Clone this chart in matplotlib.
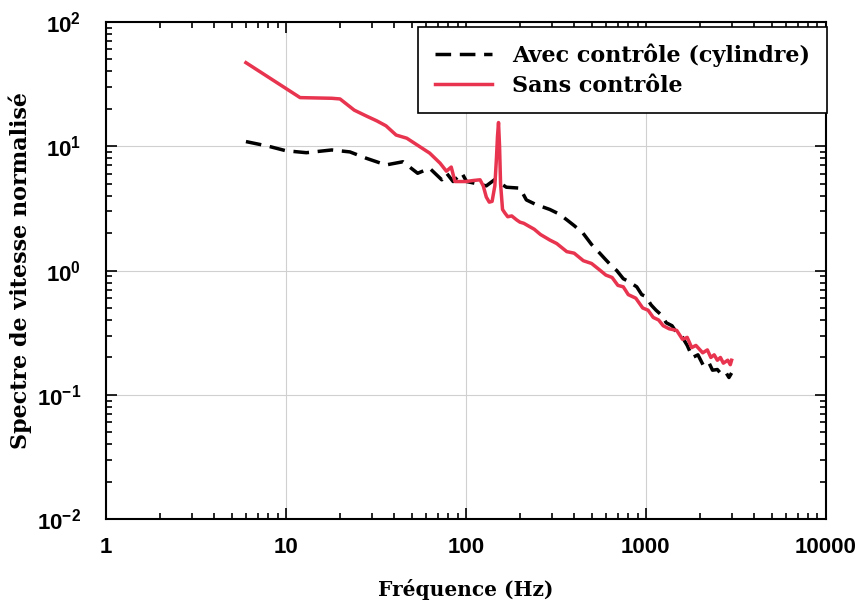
import matplotlib.pyplot as plt
from matplotlib.ticker import LogLocator, NullFormatter

# Avec contrôle (cylindre) - black dashed
freq_avec = [6, 8, 10, 13, 18, 22.7, 28, 36, 44.7, 54, 63, 73.5, 78, 85, 95, 101,
             115, 130, 145, 168, 200, 217, 245, 293, 330, 364, 400, 448, 500,
             555, 600, 650, 690, 750, 800, 891, 950, 1000, 1070, 1140, 1220,
             1300, 1400, 1486, 1600, 1700, 1820, 1950, 2100, 2250, 2350, 2500,
             2650, 2800, 2900, 3000]
spec_avec = [10.9, 10.0, 9.2, 8.87, 9.33, 9.0, 8.0, 7.07, 7.5, 6.06, 6.65, 5.37,
             6.1, 5.2, 6.1, 5.2, 5.0, 4.8, 5.4, 4.68, 4.6, 3.7, 3.4, 3.1, 2.85,
             2.56, 2.3, 2.0, 1.62, 1.38, 1.22, 1.08, 1.0, 0.86, 0.82, 0.74,
             0.64, 0.62, 0.53, 0.48, 0.44, 0.38, 0.36, 0.316, 0.29, 0.25, 0.2,
             0.21, 0.17, 0.18, 0.158, 0.16, 0.145, 0.15, 0.138, 0.15]

# Sans contrôle - red solid
freq_sans = [6, 12, 18, 20, 24, 28, 32, 36, 41, 47, 55, 63, 72, 78, 83, 87, 91,
             100, 110, 120, 125, 130, 135, 140, 145, 148, 150, 152, 154, 156,
             160, 165, 171, 180, 192, 200, 210, 227, 240, 260, 293, 320, 364,
             400, 450, 500, 555, 600, 650, 700, 750, 800, 880, 962, 1030, 1100,
             1180, 1250, 1350, 1486, 1600, 1700, 1800, 1900, 2073, 2200, 2300,
             2400, 2500, 2600, 2700, 2855, 2950, 3000]
spec_sans = [47, 24.6, 24.3, 24, 19.5, 17.5, 16, 14.6, 12.3, 11.6, 10, 8.8, 7.3,
             6.3, 6.8, 5.2, 5.2, 5.2, 5.3, 5.37, 4.8, 3.9, 3.55, 3.6, 4.8, 8,
             12, 15.5, 10, 5, 3.1, 2.9, 2.71, 2.75, 2.55, 2.45, 2.4, 2.25, 2.15,
             1.95, 1.76, 1.65, 1.42, 1.38, 1.2, 1.14, 1.01, 0.92, 0.88, 0.76,
             0.74, 0.64, 0.6, 0.5, 0.48, 0.42, 0.4, 0.36, 0.34, 0.33, 0.28, 0.29,
             0.24, 0.25, 0.218, 0.23, 0.2, 0.21, 0.19, 0.2, 0.18, 0.19, 0.175,
             0.19]

plt.rcParams["font.family"] = "DejaVu Serif"
plt.rcParams["mathtext.fontset"] = "custom"
plt.rcParams["mathtext.bf"] = "Liberation Sans:bold"

fig = plt.figure(figsize=(8.61, 6.08), dpi=100)
ax = fig.add_axes([0.123, 0.146, 0.836, 0.818])

ax.plot(freq_avec, spec_avec, color="black", lw=2.5, linestyle=(0, (4.5, 2.5)),
        label="Avec contrôle (cylindre)")
ax.plot(freq_sans, spec_sans, color="#e8344f", lw=2.5, label="Sans contrôle")

ax.set_xscale("log")
ax.set_yscale("log")
ax.set_xlim(1, 10000)
ax.set_ylim(1e-2, 1e2)

ax.xaxis.set_minor_locator(LogLocator(base=10, subs=range(2, 10)))
ax.yaxis.set_minor_locator(LogLocator(base=10, subs=range(2, 10)))
ax.xaxis.set_minor_formatter(NullFormatter())
ax.yaxis.set_minor_formatter(NullFormatter())
ax.set_xticks([1, 10, 100, 1000, 10000])
ax.set_xticklabels(["1", "10", "100", "1000", "10000"])
ax.set_yticks([1e-2, 1e-1, 1, 10, 100])
ax.set_yticklabels([r"$\mathbf{10^{-2}}$", r"$\mathbf{10^{-1}}$", r"$\mathbf{10^{0}}$",
                    r"$\mathbf{10^{1}}$", r"$\mathbf{10^{2}}$"])

for lab in ax.get_xticklabels() + ax.get_yticklabels():
    lab.set_family("Liberation Sans")
    lab.set_fontweight("bold")
    lab.set_fontsize(16)

ax.tick_params(which="both", direction="in", top=True, right=True, width=1.2)
ax.tick_params(which="major", length=8)
ax.tick_params(which="minor", length=4)
ax.tick_params(axis="x", which="major", pad=13)
ax.tick_params(axis="y", which="major", pad=18)
for s in ax.spines.values():
    s.set_linewidth(1.5)

ax.grid(True, which="major", color="#d0d0d0", lw=0.8)

ax.set_xlabel("Fréquence (Hz)", fontsize=14.5, fontweight="bold", labelpad=15)
ax.set_ylabel("Spectre de vitesse normalisé", fontsize=16, fontweight="bold",
              labelpad=3)

leg = ax.legend(loc="upper right", bbox_to_anchor=(1.002, 0.99),
                prop={"weight": "bold", "size": 16},
                fancybox=False, edgecolor="black", framealpha=1,
                handlelength=2.6, handletextpad=0.9, labelspacing=0.35,
                borderpad=0.75, borderaxespad=0.0)
leg.get_frame().set_linewidth(1.2)

fig.savefig("out.png", dpi=100)
